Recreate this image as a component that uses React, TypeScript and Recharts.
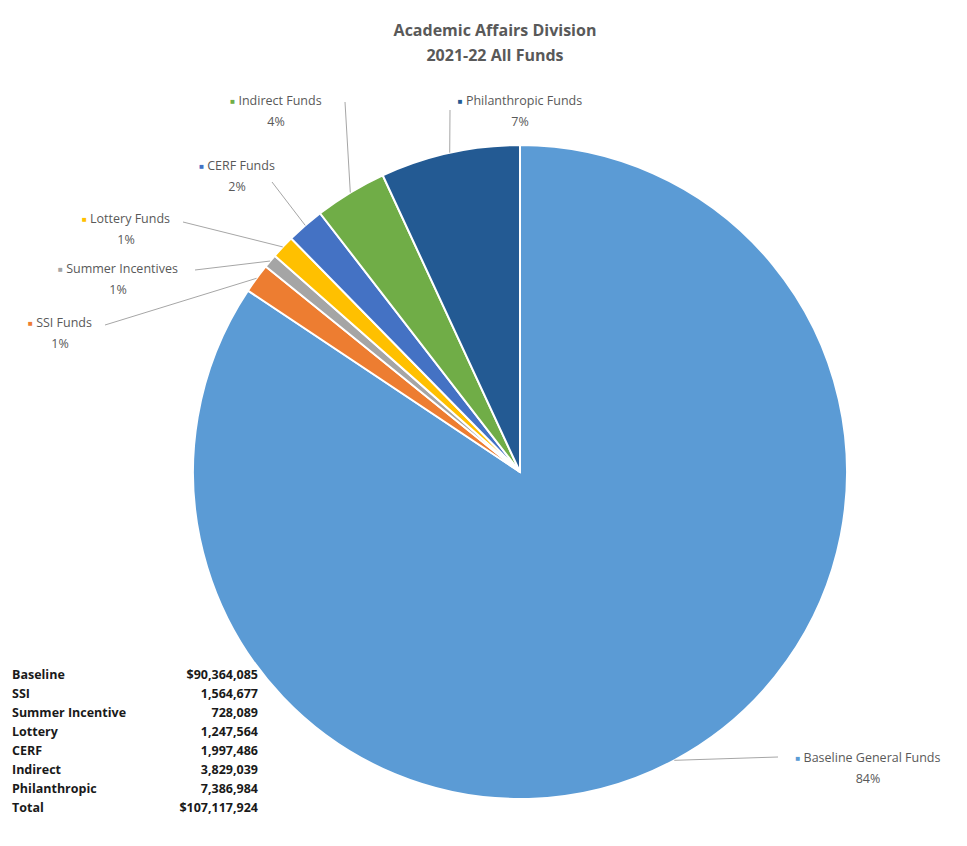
import { PieChart, Pie, Cell } from "recharts";

const fundNames = [
  "Baseline General Funds",
  "SSI Funds",
  "Summer Incentives",
  "Lottery Funds",
  "CERF Funds",
  "Indirect Funds",
  "Philanthropic Funds",
];
const fundAmounts = [90364085, 1564677, 728089, 1247564, 1997486, 3829039, 7386984];
const tableLabels = ["Baseline", "SSI", "Summer Incentive", "Lottery", "CERF", "Indirect", "Philanthropic"];
const sliceColors = ["#5B9BD5", "#ED7D31", "#A5A5A5", "#FFC000", "#4472C4", "#70AD47", "#235A93"];

// label placement relative to pie centre: text centre (tx, ty) and leader end (lx, ly)
const labelLayout = [
  { tx: 348, ty: 285, lx: 258, ly: 285 },
  { tx: -460, ty: -150, lx: -415, ly: -147 },
  { tx: -402, ty: -204, lx: -325, ly: -202 },
  { tx: -394, ty: -254, lx: -337, ly: -250 },
  { tx: -283, ty: -307, lx: -248, ly: -290 },
  { tx: -244, ty: -372, lx: -175, ly: -370 },
  { tx: 0, ty: -372, lx: -70, ly: -362 },
];

const data = fundNames.map((name, i) => ({ name, value: fundAmounts[i] }));
const total = fundAmounts.reduce((a, b) => a + b, 0);

const RAD = Math.PI / 180;
const fmt = (n: number) => n.toLocaleString("en-US");

const renderLabel = (props: any) => {
  const { cx, cy, midAngle, outerRadius, index, percent } = props;
  const lay = labelLayout[index];
  const ex = cx + outerRadius * Math.cos(-midAngle * RAD);
  const ey = cy + outerRadius * Math.sin(-midAngle * RAD);
  const tx = cx + lay.tx;
  const ty = cy + lay.ty;
  return (
    <g>
      <polyline
        points={`${ex},${ey} ${cx + lay.lx},${cy + lay.ly}`}
        fill="none"
        stroke="#A6A6A6"
        strokeWidth={1}
      />
      <text x={tx} y={ty} textAnchor="middle" dominantBaseline="central" fontSize={12.5} fill="#595959" fontFamily="Open Sans, sans-serif">
        <tspan fill={sliceColors[index]} fontSize={8}>■</tspan>
        <tspan> {fundNames[index]}</tspan>
      </text>
      <text x={tx} y={ty + 21} textAnchor="middle" dominantBaseline="central" fontSize={12.5} fill="#595959" fontFamily="Open Sans, sans-serif">
        {Math.round(percent * 100)}%
      </text>
    </g>
  );
};

const App = () => {
  return (
    <div style={{ position: "relative", width: 951, height: 830, background: "#fff" }}>
      <div
        style={{
          position: "absolute",
          top: 10,
          left: 0,
          width: 974,
          textAlign: "center",
          fontFamily: "Open Sans, sans-serif",
          fontWeight: 700,
          fontSize: 16,
          lineHeight: "25px",
          color: "#595959",
        }}
      >
        Academic Affairs Division
        <br />
        2021-22 All Funds
      </div>
      <PieChart width={951} height={830}>
        <Pie
          data={data}
          dataKey="value"
          nameKey="name"
          cx={507}
          cy={459}
          outerRadius={327}
          startAngle={90}
          endAngle={-270}
          stroke="#ffffff"
          strokeWidth={2}
          label={renderLabel}
          labelLine={false}
          isAnimationActive={false}
        >
          {data.map((d, i) => (
            <Cell key={d.name} fill={sliceColors[i]} />
          ))}
        </Pie>
      </PieChart>
      <div
        style={{
          position: "absolute",
          left: 4,
          top: 657,
          width: 246,
          fontFamily: "Open Sans, sans-serif",
          fontWeight: 700,
          fontSize: 12.5,
          lineHeight: "19px",
          color: "#1a1a1a",
        }}
      >
        {tableLabels.map((t, i) => (
          <div key={t} style={{ display: "flex", justifyContent: "space-between" }}>
            <span>{t}</span>
            <span>{i === 0 ? "$" : ""}{fmt(fundAmounts[i])}</span>
          </div>
        ))}
        <div style={{ display: "flex", justifyContent: "space-between" }}>
          <span>Total</span>
          <span>${fmt(total)}</span>
        </div>
      </div>
    </div>
  );
};

export default App;
